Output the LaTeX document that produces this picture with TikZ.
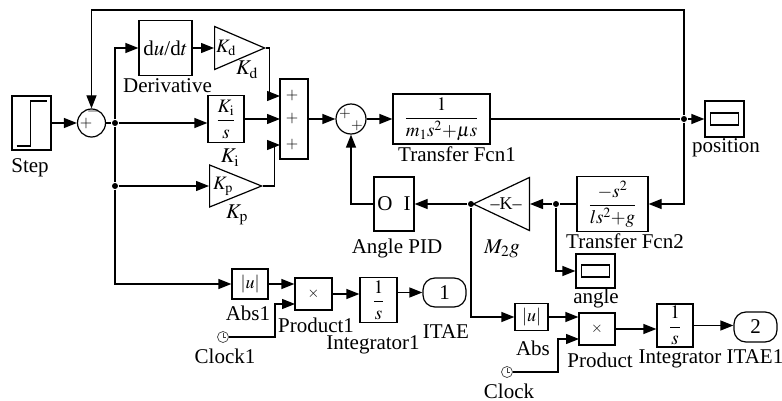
\documentclass[tikz,border=0pt]{standalone}
\usepackage{mathptmx}
\usepackage{fontspec}
\setmainfont{Liberation Serif}
\usetikzlibrary{arrows.meta,shapes.geometric,calc}

\begin{document}
\begin{tikzpicture}[x=1pt,y=-1pt,line width=1.2pt,
    font=\fontsize{21}{24}\selectfont,
    blk/.style={draw,inner sep=0pt},
    gain/.style={draw,inner sep=0pt,isosceles triangle,isosceles triangle stretches},
    sumc/.style={draw,circle,inner sep=0pt,minimum size=#1},
    dot/.style={circle,fill,inner sep=0pt,minimum size=6pt},
    sig/.style={-{Triangle[length=13pt,width=10pt]}},
    lbl/.style={anchor=base,inner sep=0pt},
    sgn/.style={inner sep=0pt,font=\fontsize{16}{16}\selectfont},
    outport/.style={blk,rounded corners=12pt},
    scopebox/.style={blk,path picture={\draw ($(path picture bounding box.center)+(-14,-6)$) rectangle ++(28,12);}},
    stepbox/.style={blk,path picture={\draw ($(path picture bounding box.center)+(-15,23)$) -- ++(14,0) -- ++(0,-45) -- ++(16,0);}},
    clk/.style={circle,draw=black!75,line width=.7pt,inner sep=0pt,minimum size=11pt,
      path picture={\draw[line width=.6pt] (path picture bounding box.center) -- ++(0,-4) (path picture bounding box.center) -- ++(3,0);}}
  ]
  \useasboundingbox (0,0) rectangle (782,401);

  % PID branch
  \node[stepbox,minimum width=39pt,minimum height=54pt] (step) at (31.5,123) {};
  \node[sumc=28pt] (sum1) at (91.5,123) {};
  \node[sgn] at (86,124) {$+$};
  \node[sgn] at (93,112) {$-$};
  \node[dot] (b1) at (115,123) {};
  \node[dot] (b5) at (115,186) {};
  \node[blk,minimum width=53pt,minimum height=55pt] (deriv) at (165.5,48) {d$u$/d$t$};
  \node[gain,minimum width=43pt,minimum height=50pt,anchor=west] (kd) at (214,48) {};
  \node[inner sep=0pt,font=\fontsize{19}{19}\selectfont] at (226,48) {$K_{\mathrm d}$};
  \node[blk,minimum width=36pt,minimum height=47pt,font=\fontsize{19}{19}\selectfont] (ki) at (226,119) {$\displaystyle\frac{K_{\mathrm i}}{s}$};
  \node[gain,minimum width=42pt,minimum height=52pt,anchor=west] (kp) at (209,186) {};
  \node[inner sep=0pt,font=\fontsize{19}{19}\selectfont] at (223,186) {$K_{\mathrm p}$};
  \node[blk,minimum width=28pt,minimum height=80pt] (sum3) at (294,119) {};
  \coordinate (s3a) at (280,96);
  \coordinate (s3b) at (280,119);
  \coordinate (s3c) at (280,145);
  \node[sgn] at (292,96) {$+$};
  \node[sgn] at (292,119) {$+$};
  \node[sgn] at (292,145) {$+$};

  % plant
  \node[sumc=30pt] (sum2) at (351,119) {};
  \node[sgn,font=\fontsize{15}{15}\selectfont] at (345,114) {$+$};
  \node[sgn,font=\fontsize{15}{15}\selectfont] at (357,126) {$+$};
  \node[blk,minimum width=97pt,minimum height=50pt,font=\fontsize{19}{19}\selectfont] (tf1) at (441.5,119) {$\displaystyle\frac{1}{m_1s^2{+}\mu s}$};
  \node[dot] (b2) at (684,119) {};
  \node[scopebox,minimum width=39pt,minimum height=36pt] (pos) at (724.5,119) {};
  \node[blk,minimum width=71pt,minimum height=55pt,font=\fontsize{19}{19}\selectfont] (tf2) at (612.5,204) {$\displaystyle\frac{-s^2}{ls^2{+}g}$};
  \node[dot] (b3) at (556,204) {};
  \node[gain,shape border rotate=180,minimum width=53pt,minimum height=56pt,anchor=east] (m2g) at (530,204) {};
  \node[inner sep=0pt,font=\fontsize{18}{18}\selectfont] at (506,204) {\textendash K\textendash};
  \node[dot] (b4) at (471,204) {};
  \node[blk,minimum width=40pt,minimum height=54pt] (pid) at (394,204) {};
  \node[inner sep=0pt] at (385,204) {O};
  \node[inner sep=0pt] at (407,204) {I};
  \node[scopebox,minimum width=39pt,minimum height=34pt] (ang) at (595.5,271) {};

  % ITAE chains
  \node[blk,minimum width=36pt,minimum height=30pt,font=\fontsize{18}{18}\selectfont] (abs1) at (250,284) {$|u|$};
  \node[blk,minimum width=37pt,minimum height=32pt,font=\fontsize{15}{15}\selectfont] (prod1) at (313.5,294) {$\times$};
  \coordinate (pb1) at (295,304);
  \node[clk] (clock1) at (223,337) {};
  \node[blk,minimum width=37pt,minimum height=45pt,font=\fontsize{19}{19}\selectfont] (integ1) at (378.5,300) {$\displaystyle\frac{1}{s}$};
  \node[outport,minimum width=43pt,minimum height=29pt] (itae) at (444.5,292.5) {1};
  \node[blk,minimum width=33pt,minimum height=27pt,font=\fontsize{18}{18}\selectfont] (abs) at (531.5,317) {$|u|$};
  \node[blk,minimum width=36pt,minimum height=32pt,font=\fontsize{15}{15}\selectfont] (prod) at (597,329) {$\times$};
  \coordinate (pb) at (579,339);
  \node[clk] (clock) at (507,372) {};
  \node[blk,minimum width=36pt,minimum height=43pt,font=\fontsize{19}{19}\selectfont] (integ) at (675,325.5) {$\displaystyle\frac{1}{s}$};
  \node[outport,minimum width=43pt,minimum height=30pt] (itae1) at (755.5,327) {2};

  % labels
  \node[lbl] at (30,173) {Step};
  \node[lbl] at (167.5,93) {Derivative};
  \node[lbl] at (247,75) {$K_{\mathrm d}$};
  \node[lbl] at (230,163) {$K_{\mathrm i}$};
  \node[lbl] at (237,218) {$K_{\mathrm p}$};
  \node[lbl] at (457,162) {Transfer Fcn1};
  \node[lbl] at (726,153) {position};
  \node[lbl] at (625,248) {Transfer Fcn2};
  \node[lbl] at (502,253) {$M_2g$};
  \node[lbl] at (397,253) {Angle PID};
  \node[lbl] at (596,303) {angle};
  \node[lbl] at (248,320) {Abs1};
  \node[lbl] at (316,332) {Product1};
  \node[lbl] at (225,363) {Clock1};
  \node[lbl] at (373,349) {Integrator1};
  \node[lbl] at (446,338) {ITAE};
  \node[lbl] at (533,355) {Abs};
  \node[lbl] at (600,367) {Product};
  \node[lbl] at (509,398) {Clock};
  \node[lbl] at (680,363) {Integrator};
  \node[lbl] at (755,363) {ITAE1};

  % signals
  \draw[sig] (step) -- (sum1);
  \draw (sum1) -- (b1);
  \draw[sig] (b1) |- (deriv);
  \draw[sig] (b1) -- (b1 -| ki.west);
  \draw (b1) -- (b5);
  \draw[sig] (b5) -- (kp);
  \draw[sig] (b5) |- (abs1);
  \draw[sig] (deriv) -- (kd);
  \draw[sig] (kd.apex) -- ++(3,0) |- (s3a);
  \draw[sig] (ki) -- (s3b);
  \draw[sig] (kp.apex) -- ++(11,0) |- (s3c);
  \draw[sig] (sum3) -- (sum2);
  \draw[sig] (sum2) -- (tf1);
  \draw (tf1) -- (b2);
  \draw[sig] (b2) -- (pos);
  \draw[sig] (b2) -- ++(0,-109) -| (sum1); % feedback of position
  \draw[sig] (b2) |- (tf2);
  \draw (tf2) -- (b3);
  \draw[sig] (b3) -- (m2g);
  \draw[sig] (b3) |- (ang);
  \draw (m2g.apex) -- (b4);
  \draw[sig] (b4) -- (pid);
  \draw[sig] (pid) -| (sum2);
  \draw[sig] (b4) |- (abs);
  \draw[sig] (abs) -- (abs -| prod.west);
  \draw[sig] (clock) -- ++(51,0) |- (pb);
  \draw[sig] (prod) -- (prod -| integ.west);
  \draw[sig] (integ) -- (integ -| itae1.west);
  \draw[sig] (abs1) -- (abs1 -| prod1.west);
  \draw[sig] (clock1) -- ++(52,0) |- (pb1);
  \draw[sig] (prod1) -- (prod1 -| integ1.west);
  \draw[sig] (itae -| integ1.east) -- (itae);
\end{tikzpicture}
\end{document}
